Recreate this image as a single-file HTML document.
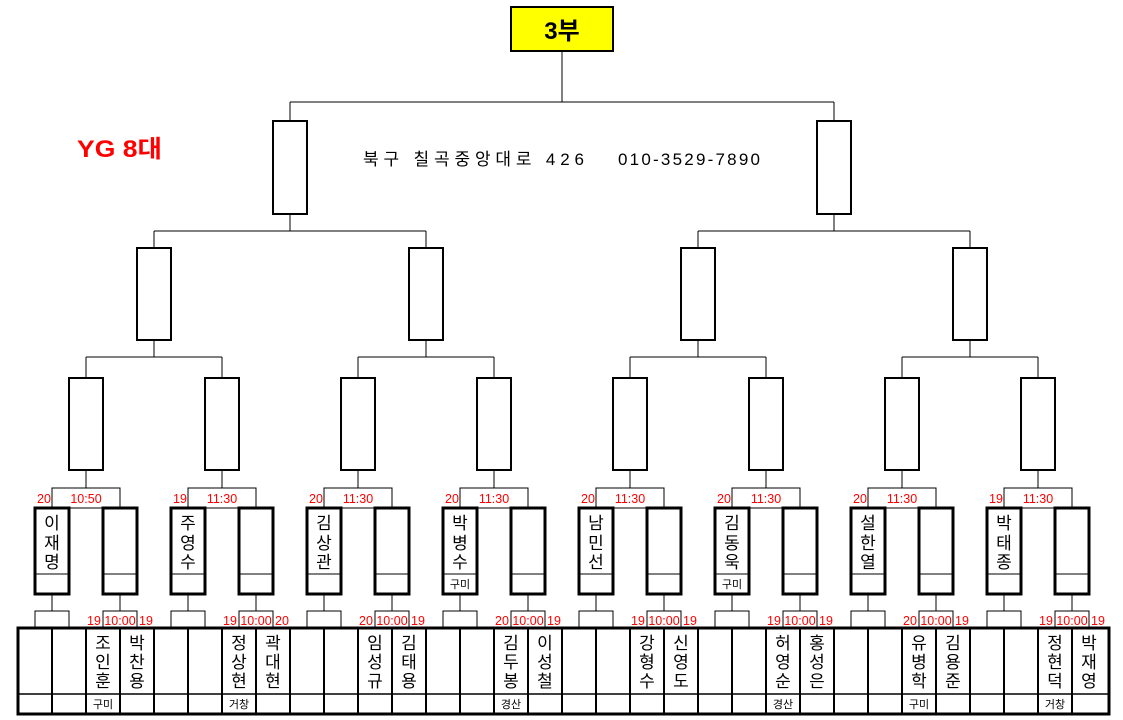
<!DOCTYPE html>
<html><head><meta charset="utf-8"><style>
html,body{margin:0;padding:0;background:#fff;}
svg{display:block;font-family:"Liberation Sans","Noto Sans CJK KR",sans-serif;}
.t{stroke:#000;stroke-width:1;fill:none}
.b3{stroke:#000;stroke-width:3;fill:none}
.b2{stroke:#000;stroke-width:2;fill:none}
.r{fill:#f00;font-size:12.5px;text-anchor:middle}
.n{fill:#000;font-size:17px;text-anchor:middle}
.s{fill:#000;font-size:11px;text-anchor:middle}
</style></head><body>
<svg width="1123" height="720" viewBox="0 0 1123 720" xmlns="http://www.w3.org/2000/svg">
<defs>
<g id="grp">
<rect class="t" x="34" y="488" width="68" height="20"/>
<line class="t" x1="68" y1="470" x2="68" y2="488"/>
<rect class="b3" x="17" y="508" width="34" height="86"/>
<line class="t" x1="17" y1="574" x2="51" y2="574"/>
<rect class="b3" x="85" y="508" width="34" height="86"/>
<line class="t" x1="85" y1="574" x2="119" y2="574"/>
<line class="t" x1="34" y1="594" x2="34" y2="611"/>
<line class="t" x1="102" y1="594" x2="102" y2="611"/>
<rect class="t" x="17" y="611" width="34" height="17"/>
<rect class="t" x="85" y="611" width="34" height="17"/>
<rect class="b2" x="51" y="378" width="34" height="92"/>
</g>
</defs>
<!-- top -->
<rect x="511" y="7" width="102" height="44" fill="#ff0" stroke="#000" stroke-width="2"/>
<text x="562" y="39" font-size="24" font-weight="bold" text-anchor="middle">3부</text>
<line class="t" x1="562" y1="51" x2="562" y2="102"/>
<line class="t" x1="290" y1="102" x2="834" y2="102"/>
<line class="t" x1="290" y1="102" x2="290" y2="121"/>
<line class="t" x1="834" y1="102" x2="834" y2="121"/>
<text x="77" y="157" font-size="24" font-weight="bold" fill="#f00" textLength="85" lengthAdjust="spacingAndGlyphs">YG 8대</text>
<text x="363" y="165" font-size="17" textLength="221">북구 칠곡중앙대로 426</text>
<text x="618" y="165" font-size="17" textLength="142">010-3529-7890</text>
<!-- round4 -->
<rect class="b2" x="273" y="121" width="34" height="93"/>
<rect class="b2" x="817" y="121" width="34" height="93"/>
<line class="t" x1="290" y1="214" x2="290" y2="231"/>
<line class="t" x1="834" y1="214" x2="834" y2="231"/>
<line class="t" x1="154" y1="231" x2="426" y2="231"/>
<line class="t" x1="698" y1="231" x2="970" y2="231"/>
<line class="t" x1="154" y1="231" x2="154" y2="248"/>
<line class="t" x1="426" y1="231" x2="426" y2="248"/>
<line class="t" x1="698" y1="231" x2="698" y2="248"/>
<line class="t" x1="970" y1="231" x2="970" y2="248"/>
<!-- round3 -->
<rect class="b2" x="137" y="248" width="34" height="92"/>
<rect class="b2" x="409" y="248" width="34" height="92"/>
<rect class="b2" x="681" y="248" width="34" height="92"/>
<rect class="b2" x="953" y="248" width="34" height="92"/>
<g class="t">
<line x1="154" y1="340" x2="154" y2="357"/><line x1="426" y1="340" x2="426" y2="357"/>
<line x1="698" y1="340" x2="698" y2="357"/><line x1="970" y1="340" x2="970" y2="357"/>
<line x1="86" y1="357" x2="222" y2="357"/><line x1="358" y1="357" x2="494" y2="357"/>
<line x1="630" y1="357" x2="766" y2="357"/><line x1="902" y1="357" x2="1038" y2="357"/>
<line x1="86" y1="357" x2="86" y2="378"/><line x1="222" y1="357" x2="222" y2="378"/>
<line x1="358" y1="357" x2="358" y2="378"/><line x1="494" y1="357" x2="494" y2="378"/>
<line x1="630" y1="357" x2="630" y2="378"/><line x1="766" y1="357" x2="766" y2="378"/>
<line x1="902" y1="357" x2="902" y2="378"/><line x1="1038" y1="357" x2="1038" y2="378"/>
</g>
<!-- groups -->
<use href="#grp" x="18"/><use href="#grp" x="154"/><use href="#grp" x="290"/><use href="#grp" x="426"/>
<use href="#grp" x="562"/><use href="#grp" x="698"/><use href="#grp" x="834"/><use href="#grp" x="970"/>
<!-- table -->
<rect class="b3" x="18" y="628" width="1091" height="86"/>
<line stroke="#000" stroke-width="1.5" x1="18" y1="694" x2="1109" y2="694"/>
<g stroke="#000" stroke-width="2">
<line x1="52" y1="628" x2="52" y2="714"/><line x1="86" y1="628" x2="86" y2="714"/><line x1="120" y1="628" x2="120" y2="714"/><line x1="154" y1="628" x2="154" y2="714"/>
<line x1="188" y1="628" x2="188" y2="714"/><line x1="222" y1="628" x2="222" y2="714"/><line x1="256" y1="628" x2="256" y2="714"/><line x1="290" y1="628" x2="290" y2="714"/>
<line x1="324" y1="628" x2="324" y2="714"/><line x1="358" y1="628" x2="358" y2="714"/><line x1="392" y1="628" x2="392" y2="714"/><line x1="426" y1="628" x2="426" y2="714"/>
<line x1="460" y1="628" x2="460" y2="714"/><line x1="494" y1="628" x2="494" y2="714"/><line x1="528" y1="628" x2="528" y2="714"/><line x1="562" y1="628" x2="562" y2="714"/>
<line x1="596" y1="628" x2="596" y2="714"/><line x1="630" y1="628" x2="630" y2="714"/><line x1="664" y1="628" x2="664" y2="714"/><line x1="698" y1="628" x2="698" y2="714"/>
<line x1="732" y1="628" x2="732" y2="714"/><line x1="766" y1="628" x2="766" y2="714"/><line x1="800" y1="628" x2="800" y2="714"/><line x1="834" y1="628" x2="834" y2="714"/>
<line x1="868" y1="628" x2="868" y2="714"/><line x1="902" y1="628" x2="902" y2="714"/><line x1="936" y1="628" x2="936" y2="714"/><line x1="970" y1="628" x2="970" y2="714"/>
<line x1="1004" y1="628" x2="1004" y2="714"/><line x1="1038" y1="628" x2="1038" y2="714"/><line x1="1072" y1="628" x2="1072" y2="714"/>
</g>

<!-- G0 -->
<g transform="translate(18,0)">
<text class="r" x="26" y="503">20</text><text class="r" x="68" y="503">10:50</text>
<text class="n" x="34" y="529">이</text><text class="n" x="34" y="549">재</text><text class="n" x="34" y="568">명</text>
<text class="r" x="76" y="625">19</text><text class="r" x="102" y="625">10:00</text><text class="r" x="128" y="625">19</text>
<text class="n" x="85" y="649">조</text><text class="n" x="85" y="668">인</text><text class="n" x="85" y="687">훈</text>
<text class="n" x="119" y="649">박</text><text class="n" x="119" y="668">찬</text><text class="n" x="119" y="687">용</text>
<text class="s" x="85" y="708">구미</text>
</g>
<!-- G1 -->
<g transform="translate(154,0)">
<text class="r" x="26" y="503">19</text><text class="r" x="68" y="503">11:30</text>
<text class="n" x="34" y="529">주</text><text class="n" x="34" y="549">영</text><text class="n" x="34" y="568">수</text>
<text class="r" x="76" y="625">19</text><text class="r" x="102" y="625">10:00</text><text class="r" x="128" y="625">20</text>
<text class="n" x="85" y="649">정</text><text class="n" x="85" y="668">상</text><text class="n" x="85" y="687">현</text>
<text class="n" x="119" y="649">곽</text><text class="n" x="119" y="668">대</text><text class="n" x="119" y="687">현</text>
<text class="s" x="85" y="708">거창</text>
</g>
<!-- G2 -->
<g transform="translate(290,0)">
<text class="r" x="26" y="503">20</text><text class="r" x="68" y="503">11:30</text>
<text class="n" x="34" y="529">김</text><text class="n" x="34" y="549">상</text><text class="n" x="34" y="568">관</text>
<text class="r" x="76" y="625">20</text><text class="r" x="102" y="625">10:00</text><text class="r" x="128" y="625">19</text>
<text class="n" x="85" y="649">임</text><text class="n" x="85" y="668">성</text><text class="n" x="85" y="687">규</text>
<text class="n" x="119" y="649">김</text><text class="n" x="119" y="668">태</text><text class="n" x="119" y="687">용</text>
</g>
<!-- G3 -->
<g transform="translate(426,0)">
<text class="r" x="26" y="503">20</text><text class="r" x="68" y="503">11:30</text>
<text class="n" x="34" y="529">박</text><text class="n" x="34" y="549">병</text><text class="n" x="34" y="568">수</text>
<text class="s" x="34" y="588">구미</text>
<text class="r" x="76" y="625">20</text><text class="r" x="102" y="625">10:00</text><text class="r" x="128" y="625">19</text>
<text class="n" x="85" y="649">김</text><text class="n" x="85" y="668">두</text><text class="n" x="85" y="687">봉</text>
<text class="n" x="119" y="649">이</text><text class="n" x="119" y="668">성</text><text class="n" x="119" y="687">철</text>
<text class="s" x="85" y="708">경산</text>
</g>
<!-- G4 -->
<g transform="translate(562,0)">
<text class="r" x="26" y="503">20</text><text class="r" x="68" y="503">11:30</text>
<text class="n" x="34" y="529">남</text><text class="n" x="34" y="549">민</text><text class="n" x="34" y="568">선</text>
<text class="r" x="76" y="625">19</text><text class="r" x="102" y="625">10:00</text><text class="r" x="128" y="625">19</text>
<text class="n" x="85" y="649">강</text><text class="n" x="85" y="668">형</text><text class="n" x="85" y="687">수</text>
<text class="n" x="119" y="649">신</text><text class="n" x="119" y="668">영</text><text class="n" x="119" y="687">도</text>
</g>
<!-- G5 -->
<g transform="translate(698,0)">
<text class="r" x="26" y="503">20</text><text class="r" x="68" y="503">11:30</text>
<text class="n" x="34" y="529">김</text><text class="n" x="34" y="549">동</text><text class="n" x="34" y="568">욱</text>
<text class="s" x="34" y="588">구미</text>
<text class="r" x="76" y="625">19</text><text class="r" x="102" y="625">10:00</text><text class="r" x="128" y="625">19</text>
<text class="n" x="85" y="649">허</text><text class="n" x="85" y="668">영</text><text class="n" x="85" y="687">순</text>
<text class="n" x="119" y="649">홍</text><text class="n" x="119" y="668">성</text><text class="n" x="119" y="687">은</text>
<text class="s" x="85" y="708">경산</text>
</g>
<!-- G6 -->
<g transform="translate(834,0)">
<text class="r" x="26" y="503">20</text><text class="r" x="68" y="503">11:30</text>
<text class="n" x="34" y="529">설</text><text class="n" x="34" y="549">한</text><text class="n" x="34" y="568">열</text>
<text class="r" x="76" y="625">20</text><text class="r" x="102" y="625">10:00</text><text class="r" x="128" y="625">19</text>
<text class="n" x="85" y="649">유</text><text class="n" x="85" y="668">병</text><text class="n" x="85" y="687">학</text>
<text class="n" x="119" y="649">김</text><text class="n" x="119" y="668">용</text><text class="n" x="119" y="687">준</text>
<text class="s" x="85" y="708">구미</text>
</g>
<!-- G7 -->
<g transform="translate(970,0)">
<text class="r" x="26" y="503">19</text><text class="r" x="68" y="503">11:30</text>
<text class="n" x="34" y="529">박</text><text class="n" x="34" y="549">태</text><text class="n" x="34" y="568">종</text>
<text class="r" x="76" y="625">19</text><text class="r" x="102" y="625">10:00</text><text class="r" x="128" y="625">19</text>
<text class="n" x="85" y="649">정</text><text class="n" x="85" y="668">현</text><text class="n" x="85" y="687">덕</text>
<text class="n" x="119" y="649">박</text><text class="n" x="119" y="668">재</text><text class="n" x="119" y="687">영</text>
<text class="s" x="85" y="708">거창</text>
</g>
</svg>
</body></html>
